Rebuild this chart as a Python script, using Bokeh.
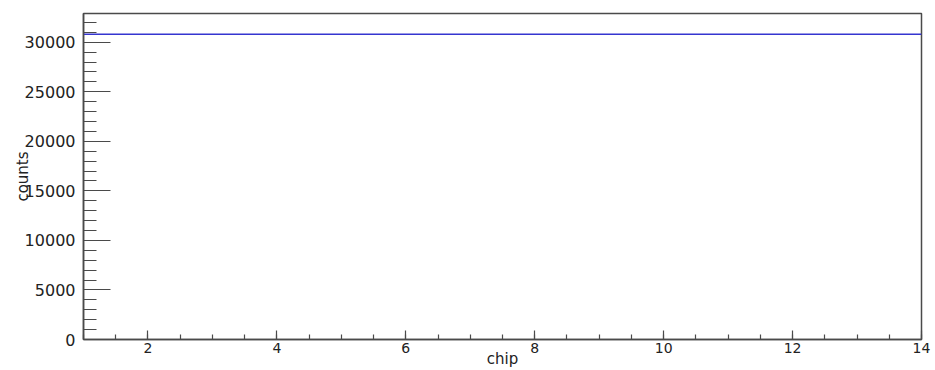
from bokeh.plotting import figure
from bokeh.models import Range1d, SingleIntervalTicker
from bokeh.embed import file_html
from bokeh.resources import INLINE

# data: one histogram, bins 1..14 (chip number), counts per chip
bin_edges = [1, 2, 3, 4, 5, 6, 7, 8, 9, 10, 11, 12, 13, 14]
counts = [30800, 30800, 30800, 30800, 30800, 30800, 30800, 30800, 30800, 30800, 30800, 30800, 30800]
x_title = "chip"
y_title = "counts"
y_max = 32900

FONT = "DejaVu Sans"
AX = "#4a4a4a"
TXT = "#222222"

p = figure(width=935, height=370, output_backend="svg", toolbar_location=None,
           x_range=Range1d(bin_edges[0], bin_edges[-1]), y_range=Range1d(0, y_max),
           min_border_left=83, min_border_right=14, min_border_top=13, min_border_bottom=31)
p.background_fill_color = "white"
p.border_fill_color = "white"
p.outline_line_color = AX
p.outline_line_width = 1.5
p.xgrid.visible = False
p.ygrid.visible = False

p.xaxis.ticker = SingleIntervalTicker(interval=2, num_minor_ticks=4)
p.yaxis.ticker = SingleIntervalTicker(interval=5000, num_minor_ticks=5)

for ax in (p.xaxis, p.yaxis):
    ax.axis_line_color = AX
    ax.axis_line_width = 1.5
    ax.major_tick_line_color = AX
    ax.minor_tick_line_color = AX
    ax.major_tick_line_width = 1.2
    ax.minor_tick_line_width = 1.2
    ax.major_tick_out = 0
    ax.minor_tick_out = 0
    ax.major_label_text_font = FONT
    ax.major_label_text_color = TXT
    ax.axis_label_text_font = FONT
    ax.axis_label_text_font_style = "normal"
    ax.axis_label_text_color = TXT

p.yaxis.major_label_text_font_size = "16px"
p.yaxis.major_tick_in = 27
p.yaxis.minor_tick_in = 13
p.yaxis.major_label_standoff = 8
p.yaxis.axis_label = y_title
p.yaxis.axis_label_text_font_size = "15px"
p.yaxis.axis_label_standoff = -10

p.xaxis.major_label_text_font_size = "14px"
p.xaxis.major_tick_in = 9
p.xaxis.minor_tick_in = 5
p.xaxis.major_label_standoff = 3
p.xaxis.axis_label = x_title
p.xaxis.axis_label_text_font_size = "15px"
p.xaxis.axis_label_standoff = -6

y_step = counts + [counts[-1]]
p.step(x=bin_edges, y=y_step, mode="after", line_color="#3535d0", line_width=1.5)

open("out.html", "w").write(file_html(p, INLINE))
